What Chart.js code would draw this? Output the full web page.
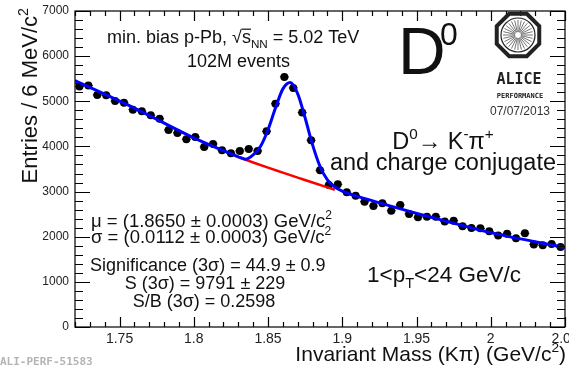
<!DOCTYPE html>
<html>
<head>
<meta charset="utf-8">
<script src="https://cdn.jsdelivr.net/npm/chart.js@4.4.1/dist/chart.umd.min.js"></script>
<style>
  html, body { margin: 0; padding: 0; background: #fff; }
  #wrap { width: 569px; height: 368px; }
</style>
</head>
<body>
<div id="wrap"><canvas id="chart" width="569" height="368"></canvas></div>
<script>
// invariant mass bin centres (GeV/c^2), 6 MeV bins
const binCenters = [
    1.723, 1.729, 1.735, 1.741, 1.747, 1.753, 1.759, 1.765, 1.771, 1.777,
    1.783, 1.789, 1.795, 1.801, 1.807, 1.813, 1.819, 1.825, 1.831, 1.837,
    1.843, 1.849, 1.855, 1.861, 1.867, 1.873, 1.879, 1.885, 1.891, 1.897,
    1.903, 1.909, 1.915, 1.921, 1.927, 1.933, 1.939, 1.945, 1.951, 1.957,
    1.963, 1.969, 1.975, 1.981, 1.987, 1.993, 1.999, 2.005, 2.011, 2.017,
    2.023, 2.029, 2.035, 2.041, 2.047
];
// entries per bin
const entries = [
    5330, 5350, 5140, 5135, 5005, 4965, 4815, 4780, 4690, 4615,
    4365, 4300, 4160, 4210, 3990, 4055, 3915, 3850, 3900, 3945,
    3900, 4335, 4945, 5540, 5295, 4750, 4135, 3470, 3145, 3160,
    2985, 2910, 2775, 2680, 2740, 2575, 2705, 2505, 2430, 2445,
    2445, 2335, 2355, 2230, 2195, 2185, 2120, 2025, 2065, 1965,
    2075, 1830, 1810, 1840, 1770
];
// total fit (signal + background)
const fitMass = [1.72, 1.76, 1.80, 1.82, 1.83, 1.835, 1.84, 1.845, 1.85, 1.855, 1.86, 1.865,
                 1.87, 1.875, 1.88, 1.885, 1.89, 1.895, 1.90, 1.92, 1.96, 2.00, 2.05];
const fitTotal = [5460, 4850, 4190, 3905, 3770, 3715, 3815, 4005, 4370, 4850, 5275, 5415,
                  5165, 4630, 4035, 3560, 3260, 3100, 3010, 2800, 2430, 2090, 1760];
// background only
const bkgMass = [1.828, 1.84, 1.85, 1.86, 1.87, 1.88, 1.895];
const bkgValues = [3790, 3645, 3530, 3420, 3310, 3200, 3040];

const xTicks = [1.75, 1.8, 1.85, 1.9, 1.95, 2.0, 2.05];
const xTickLabels = ['1.75', '1.8', '1.85', '1.9', '1.95', '2', '2.05'];
const yTicks = [0, 1000, 2000, 3000, 4000, 5000, 6000, 7000];
const yTickLabels = ['0', '1000', '2000', '3000', '4000', '5000', '6000', '7000'];

const FONT = '"Liberation Sans", Arial, Helvetica, sans-serif';

// draw a line of text made of parts: {t, sup, sub, over}
function rich(ctx, parts, x, y, size, align) {
    const small = size * 0.65;
    let total = 0;
    const widths = parts.map(p => {
        ctx.font = (p.sup || p.sub ? small : size) + 'px ' + FONT;
        const w = ctx.measureText(p.t).width;
        total += w;
        return w;
    });
    let cx = align === 'center' ? x - total / 2 : align === 'right' ? x - total : x;
    parts.forEach((p, i) => {
        ctx.font = (p.sup || p.sub ? small : size) + 'px ' + FONT;
        const dy = p.sup ? -size * 0.42 : p.sub ? size * 0.28 : 0;
        ctx.fillText(p.t, cx, y + dy);
        if (p.over) {
            ctx.fillRect(cx, y - size * 0.8, widths[i], 1.2);
        }
        cx += widths[i];
    });
}

function drawLogo(ctx) {
    const cx = 518, cy = 35, r = 23;
    ctx.save();
    ctx.beginPath();
    for (let k = 0; k < 8; k++) {
        const a = Math.PI / 8 + k * Math.PI / 4;
        const px = cx + r * Math.cos(a), py = cy + r * Math.sin(a);
        k === 0 ? ctx.moveTo(px, py) : ctx.lineTo(px, py);
    }
    ctx.closePath();
    ctx.lineWidth = 4;
    ctx.strokeStyle = '#222';
    ctx.stroke();
    ctx.beginPath();
    ctx.arc(cx, cy, 17, 0, Math.PI * 2);
    ctx.lineWidth = 1.2;
    ctx.stroke();
    ctx.strokeStyle = '#777';
    ctx.lineWidth = 1;
    for (let k = 0; k < 28; k++) {
        const a = k * Math.PI * 2 / 28;
        ctx.beginPath();
        ctx.moveTo(cx + 3 * Math.cos(a), cy + 3 * Math.sin(a));
        ctx.lineTo(cx + 15 * Math.cos(a), cy + 15 * Math.sin(a));
        ctx.stroke();
    }
    ctx.fillStyle = '#222';
    ctx.textAlign = 'center';
    ctx.textBaseline = 'alphabetic';
    ctx.font = 'bold 15px "DejaVu Sans Mono", monospace';
    ctx.fillText('ALICE', cx + 1, 84);
    ctx.font = 'bold 7px "DejaVu Sans Mono", monospace';
    ctx.fillText('PERFORMANCE', cx + 2, 98);
    ctx.font = '12px ' + FONT;
    ctx.fillStyle = '#333';
    ctx.fillText('07/07/2013', cx + 2, 115);
    ctx.restore();
}

const errorBars = {
    id: 'errorBars',
    beforeDatasetsDraw(chart) {
        const { ctx, scales: { x, y } } = chart;
        ctx.save();
        ctx.strokeStyle = '#000';
        ctx.lineWidth = 1;
        binCenters.forEach((m, i) => {
            const n = entries[i];
            const e = Math.sqrt(n);
            ctx.beginPath();
            ctx.moveTo(x.getPixelForValue(m - 0.003), y.getPixelForValue(n));
            ctx.lineTo(x.getPixelForValue(m + 0.003), y.getPixelForValue(n));
            ctx.moveTo(x.getPixelForValue(m), y.getPixelForValue(n - e));
            ctx.lineTo(x.getPixelForValue(m), y.getPixelForValue(n + e));
            ctx.stroke();
        });
        ctx.restore();
    }
};

const frame = {
    id: 'frame',
    afterDraw(chart) {
        const { ctx, chartArea: a, scales: { x, y } } = chart;
        ctx.save();
        ctx.strokeStyle = '#000';
        ctx.lineWidth = 1.2;
        ctx.strokeRect(a.left, a.top, a.right - a.left, a.bottom - a.top);

        ctx.beginPath();
        // x ticks (major every 0.05, minor every 0.01)
        for (let k = 0; k <= 33; k++) {
            const v = 1.72 + k * 0.01;
            const px = Math.round(x.getPixelForValue(v)) + 0.5;
            const major = xTicks.some(t => Math.abs(t - v) < 1e-6);
            const len = major ? 10 : 5;
            ctx.moveTo(px, a.bottom); ctx.lineTo(px, a.bottom - len);
            ctx.moveTo(px, a.top); ctx.lineTo(px, a.top + len);
        }
        // y ticks (major every 1000, minor every 200)
        for (let v = 0; v <= 7000; v += 200) {
            const py = Math.round(y.getPixelForValue(v)) + 0.5;
            const len = v % 1000 === 0 ? 15 : 8;
            ctx.moveTo(a.left, py); ctx.lineTo(a.left + len, py);
            ctx.moveTo(a.right, py); ctx.lineTo(a.right - len, py);
        }
        ctx.stroke();

        // tick labels
        ctx.fillStyle = '#222';
        ctx.font = '12px ' + FONT;
        ctx.textAlign = 'right';
        ctx.textBaseline = 'middle';
        yTicks.forEach((v, i) => ctx.fillText(yTickLabels[i], a.left - 6, y.getPixelForValue(v)));
        ctx.font = '14px ' + FONT;
        ctx.textAlign = 'center';
        ctx.textBaseline = 'top';
        xTicks.forEach((v, i) => ctx.fillText(xTickLabels[i], x.getPixelForValue(v), a.bottom + 5));

        // axis titles
        ctx.fillStyle = '#111';
        ctx.textAlign = 'left';
        ctx.textBaseline = 'alphabetic';
        rich(ctx, [{ t: 'Invariant Mass (K\u03c0) (GeV/c' }, { t: '2', sup: true }, { t: ')' }], 566, 361, 21, 'right');
        ctx.save();
        ctx.translate(37, 8);
        ctx.rotate(-Math.PI / 2);
        rich(ctx, [{ t: 'Entries / 6 MeV/c' }, { t: '2', sup: true }], 0, 0, 22, 'right');
        ctx.restore();

        // labels inside the frame
        rich(ctx, [{ t: 'min. bias p-Pb, \u221a' }, { t: 's', over: true }, { t: 'NN', sub: true },
                   { t: ' = 5.02 TeV' }], 107, 43, 18, 'left');
        rich(ctx, [{ t: '102M events' }], 187, 67, 18, 'left');
        rich(ctx, [{ t: 'D' }], 398, 74, 66, 'left');
        ctx.font = '32px ' + FONT;
        ctx.fillText('0', 440, 45);
        drawLogo(ctx);

        rich(ctx, [{ t: 'D' }, { t: '0', sup: true }, { t: '\u2192 K' }, { t: '-', sup: true },
                   { t: '\u03c0' }, { t: '+', sup: true }], 443, 149, 23.5, 'center');
        rich(ctx, [{ t: 'and charge conjugate' }], 443, 170, 23.5, 'center');

        rich(ctx, [{ t: '\u03bc = (1.8650 \u00b1 0.0003) GeV/c' }, { t: '2', sup: true }], 91, 227, 18.5, 'left');
        rich(ctx, [{ t: '\u03c3 = (0.0112 \u00b1 0.0003) GeV/c' }, { t: '2', sup: true }], 91, 243, 18.5, 'left');
        rich(ctx, [{ t: 'Significance (3\u03c3) = 44.9 \u00b1 0.9' }], 90, 271, 18, 'left');
        rich(ctx, [{ t: 'S (3\u03c3) = 9791 \u00b1 229' }], 205, 289, 18, 'center');
        rich(ctx, [{ t: 'S/B (3\u03c3) = 0.2598' }], 204, 307, 18, 'center');
        rich(ctx, [{ t: '1<p' }, { t: 'T', sub: true }, { t: '<24 GeV/c' }], 444, 282, 22.5, 'center');

        ctx.fillStyle = '#b4b4b4';
        ctx.font = 'bold 11px "DejaVu Sans Mono", monospace';
        ctx.fillText('ALI-PERF-51583', 0, 365);
        ctx.restore();
    }
};

function init() {
    const ctx = document.getElementById('chart').getContext('2d');
    new Chart(ctx, {
        type: 'scatter',
        data: {
            datasets: [
                {
                    label: 'Total fit',
                    data: fitMass.map((m, i) => ({ x: m, y: fitTotal[i] })),
                    showLine: true,
                    borderColor: '#0000ff',
                    borderWidth: 3,
                    pointRadius: 0,
                    cubicInterpolationMode: 'monotone',
                    order: 0
                },
                {
                    label: 'Background',
                    data: bkgMass.map((m, i) => ({ x: m, y: bkgValues[i] })),
                    showLine: true,
                    borderColor: '#ff0000',
                    borderWidth: 2.5,
                    pointRadius: 0,
                    cubicInterpolationMode: 'monotone',
                    order: 1
                },
                {
                    label: 'Data',
                    data: binCenters.map((m, i) => ({ x: m, y: entries[i] })),
                    backgroundColor: '#000',
                    borderWidth: 0,
                    pointRadius: 4,
                    order: 2
                }
            ]
        },
        options: {
            responsive: false,
            animation: false,
            layout: { padding: { left: 75, top: 11, right: 2, bottom: 41 } },
            plugins: {
                legend: { display: false },
                tooltip: { enabled: false }
            },
            scales: {
                x: { type: 'linear', min: 1.72, max: 2.05, display: false },
                y: { min: 0, max: 7000, display: false }
            }
        },
        plugins: [errorBars, frame]
    });
}

if (document.readyState === 'loading') {
    document.addEventListener('DOMContentLoaded', init);
} else {
    init();
}
</script>
</body>
</html>
